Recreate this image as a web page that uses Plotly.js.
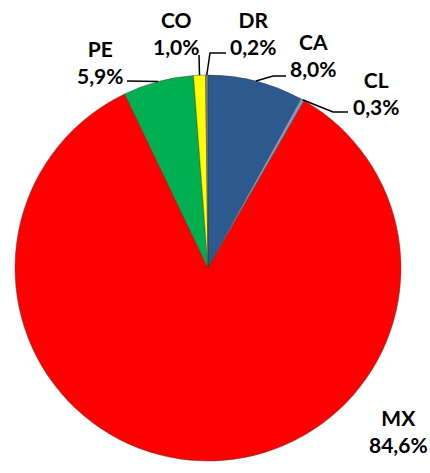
<!DOCTYPE html>
<html>
<head>
<meta charset="utf-8">
<script src="https://cdn.plot.ly/plotly-3.0.1.min.js"></script>
<style>html,body{margin:0;padding:0;background:#fff;}#chart{width:430px;height:473px;}</style>
</head>
<body>
<div id="chart"></div>
<script>
// Data
var labels = ["CA", "CL", "MX", "PE", "CO", "DR"];
var values = [8.0, 0.3, 84.6, 5.9, 1.0, 0.2];
var colors = ["#2C5A8F", "#7F9CC2", "#FF0000", "#00B050", "#FFFF00", "#7F7F7F"];

// Layout constants (pixels)
var W = 430, H = 473;
var CX = 208, CY = 268, R = 193;
// label centres and leader-line bends/ends (pixels)
var labelPos = {
  CA: {x: 313, y: 55, path: [[273, 76], [286, 76]]},
  CL: {x: 376, y: 93, path: [[333, 112], [348, 112]]},
  MX: {x: 398, y: 431, path: null},
  PE: {x: 100, y: 62, path: [[127, 81]]},
  CO: {x: 176, y: 33, path: [[199, 55]]},
  DR: {x: 253, y: 33, path: [[210, 53], [226, 53]]}
};

function px(x) { return x / W; }
function py(y) { return 1 - y / H; }

var total = values.reduce(function (a, b) { return a + b; }, 0);
var annotations = [];
var shapes = [];
var cum = 0;
for (var i = 0; i < labels.length; i++) {
  var frac = values[i] / total;
  var mid = (cum + frac / 2) * 2 * Math.PI;
  cum += frac;
  var lp = labelPos[labels[i]];
  annotations.push({
    x: px(lp.x), y: py(lp.y), xref: "paper", yref: "paper",
    xanchor: "center", yanchor: "middle", showarrow: false,
    text: labels[i] + "<br>" + values[i].toFixed(1).replace(".", ",") + "%",
    font: {family: "Lato, 'Open Sans', sans-serif", size: 21, color: "#000", weight: "bold"}
  });
  if (lp.path) {
    var sx = CX + R * Math.sin(mid), sy = CY - R * Math.cos(mid);
    var d = "M" + px(sx) + "," + py(sy);
    lp.path.forEach(function (p) { d += " L" + px(p[0]) + "," + py(p[1]); });
    shapes.push({type: "path", xref: "paper", yref: "paper", path: d,
      line: {color: "#000", width: 1.5}});
  }
}

var trace = {
  type: "pie",
  labels: labels,
  values: values,
  sort: false,
  direction: "clockwise",
  rotation: 0,
  textinfo: "none",
  hoverinfo: "label+percent",
  marker: {colors: colors, line: {color: "rgba(60,60,60,0.45)", width: 1}},
  domain: {x: [px(CX - R), px(CX + R)], y: [1 - (CY + R) / H, 1 - (CY - R) / H]},
  showlegend: false
};

var layout = {
  width: W, height: H,
  margin: {l: 0, r: 0, t: 0, b: 0},
  paper_bgcolor: "#fff",
  plot_bgcolor: "#fff",
  showlegend: false,
  annotations: annotations,
  shapes: shapes
};

Plotly.newPlot("chart", [trace], layout, {displayModeBar: false, staticPlot: true});
</script>
</body>
</html>
